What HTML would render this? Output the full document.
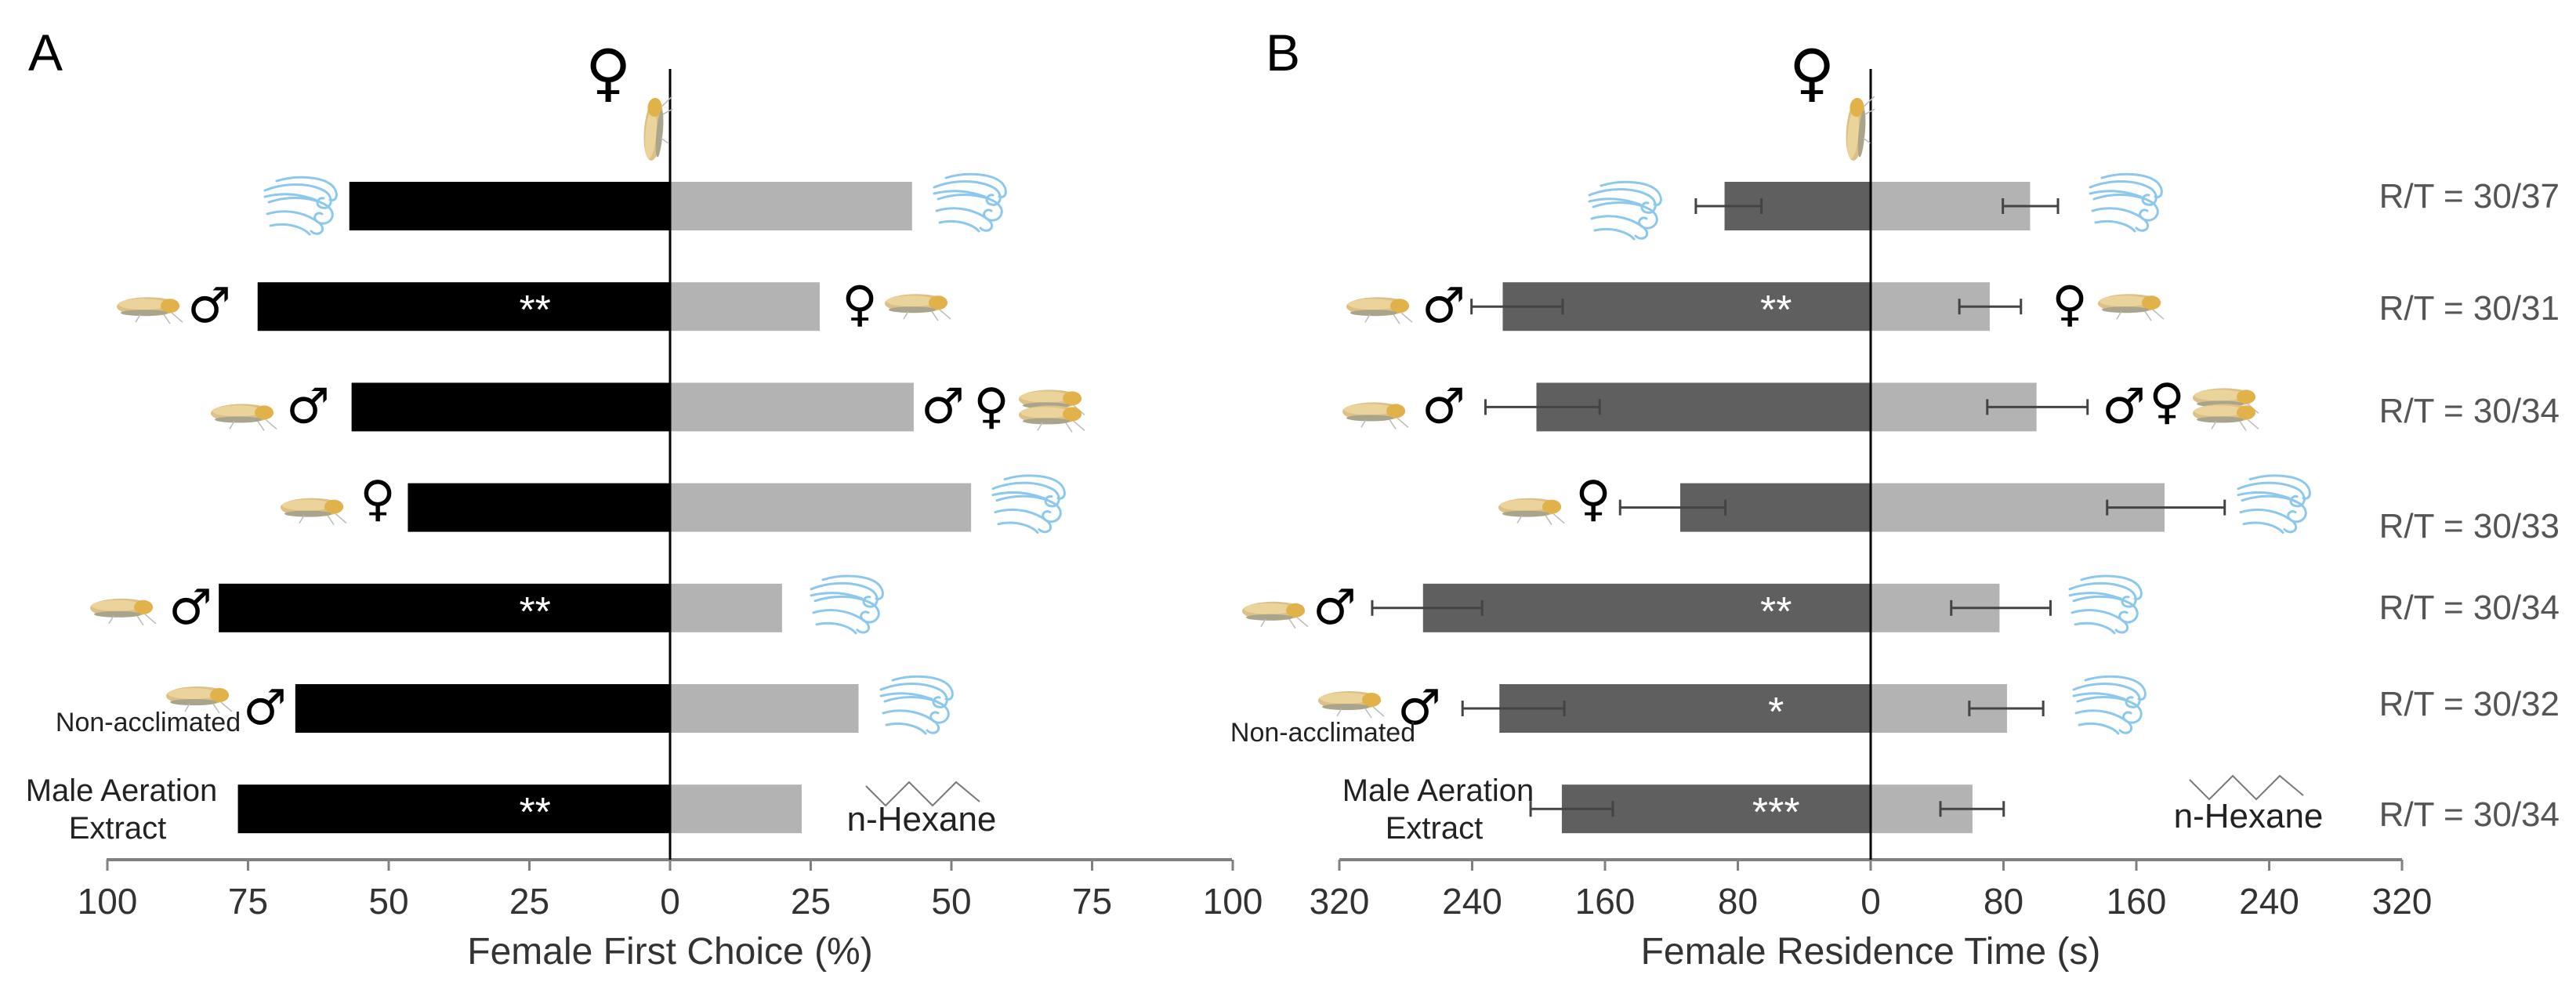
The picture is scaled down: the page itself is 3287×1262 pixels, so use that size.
<!DOCTYPE html>
<html><head><meta charset="utf-8"><style>
html,body{margin:0;padding:0;background:#fff;}
svg{display:block;font-family:"Liberation Sans",Arial,sans-serif;}
</style></head><body>
<svg id="fig" width="3287" height="1262" viewBox="0 0 3287 1262" xmlns="http://www.w3.org/2000/svg">
<defs>
<g id="insect">
<ellipse cx="0" cy="0" rx="40" ry="12" fill="#dcc085"/>
<ellipse cx="-6" cy="-3" rx="32" ry="7" fill="#ead49c"/>
<ellipse cx="28" cy="-1" rx="12" ry="9" fill="#e2b24a"/>
<ellipse cx="-5" cy="8" rx="30" ry="4" fill="#a9a48c"/>
<path d="M30 8 L44 20 M20 10 L28 22 M-10 10 L-16 20" stroke="#bbb" stroke-width="1.5" fill="none"/>
</g>
<g id="wind" fill="none" stroke="#8cc8ee" stroke-width="3" stroke-linecap="round">
<path d="M-45 -20 C-20 -30 10 -30 30 -20 C45 -12 40 5 28 2 C18 0 22 -12 30 -10"/>
<path d="M-40 -5 C-10 -15 20 -10 35 0 C50 12 35 28 22 20 C14 14 22 6 28 10"/>
<path d="M-42 10 C-15 2 10 10 25 22 C35 32 22 40 14 32"/>
<path d="M-38 25 C-15 20 5 28 12 36"/>
<path d="M-30 -32 C-5 -40 30 -38 42 -25 C50 -15 46 -5 38 -8"/>
<path d="M-45 -12 C-20 -18 0 -15 20 -8"/>
</g>
<g id="hexane" fill="none" stroke="#777" stroke-width="2">
<path d="M-75 -5 L-50 20 L-20 -10 L10 20 L40 -10 L70 15"/>
</g>
</defs>
</svg>
<script>
// ---- data ----
const categories = ["Air vs Air","Male vs Female","Male vs Male+Female","Female vs Air","Male vs Air","Non-acclimated male vs Air","Male aeration extract vs n-Hexane"];
const firstChoiceLeft = [57, 73.3, 56.6, 46.6, 80.2, 66.6, 76.8];
const firstChoiceRight = [43, 26.6, 43.3, 53.5, 19.9, 33.5, 23.4];
const starsA = ["", "**", "", "", "**", "", "**"];
const residenceLeft = [88, 221.6, 201.3, 114.7, 269.6, 223.6, 186];
const residenceLeftLo = [65.8, 185.5, 163.2, 87.5, 234, 184.5, 155.3];
const residenceLeftHi = [105.3, 240.4, 232, 150.9, 300.2, 245.8, 204.8];
const residenceRight = [96, 71.7, 99.9, 177, 77.6, 82.1, 61.3];
const residenceRightLo = [79.6, 53.4, 70.2, 142.4, 48.5, 59.4, 42];
const residenceRightHi = [112.8, 90.5, 130.6, 213.2, 108.3, 103.9, 80.1];
const starsB = ["", "**", "", "", "**", "*", "***"];
const rtLabels = ["R/T = 30/37","R/T = 30/31","R/T = 30/34","R/T = 30/33","R/T = 30/34","R/T = 30/32","R/T = 30/34"];
const ticksA = [100, 75, 50, 25, 0, 25, 50, 75, 100];
const ticksASigned = [-100, -75, -50, -25, 0, 25, 50, 75, 100];
const ticksB = [320, 240, 160, 80, 0, 80, 160, 240, 320];
const ticksBSigned = [-320, -240, -160, -80, 0, 80, 160, 240, 320];

// ---- layout ----
const NS = "http://www.w3.org/2000/svg";
const svg = document.getElementById("fig");
const axisY = 1097, barH = 62;
const rowY = i => 263 + i * 128.2;
const x0A = 855, pxA = 7.18;
const xA = v => x0A + v * pxA;
const x0B = 2387, pxB = 678 / 320;
const xB = v => x0B + v * pxB;

function mk(tag, attrs, parent) {
  const e = document.createElementNS(NS, tag);
  for (const k in attrs) e.setAttribute(k, attrs[k]);
  (parent || svg).appendChild(e);
  return e;
}
function txt(s, x, y, size, fill, anchor, parent) {
  const t = mk("text", {x: x, y: y, "font-size": size, fill: fill, "text-anchor": anchor || "middle"}, parent);
  t.textContent = s;
  return t;
}

function panel(id, xf, x0, left, right, stars, leftFill, ticks, ticksSigned, title, axisL, axisR) {
  const g = mk("g", {});
  
  
  for (let i = 0; i < left.length; i++) {
    const y = rowY(i) - barH / 2;
    const bl = mk("rect", {x: xf(-left[i]), y: y, width: x0 - xf(-left[i]), height: barH, fill: leftFill}, g);
    
    
    const br = mk("rect", {x: x0, y: y, width: xf(right[i]) - x0, height: barH, fill: "#b3b3b3"}, g);
    
    
    if (stars[i]) {
      const st = txt(stars[i], id === "a" ? xf(-24) : xf(-57), rowY(i) + 22, 52, "#fff", "middle", g);
      
      
    }
  }
  // axis
  const ax = mk("line", {x1: axisL, x2: axisR, y1: axisY, y2: axisY, stroke: "#808080", "stroke-width": 4}, g);
  
  
  for (let k = 0; k < ticks.length; k++) {
    const tx = xf(ticksSigned[k]);
    mk("line", {x1: tx, x2: tx, y1: axisY, y2: axisY + 14, stroke: "#808080", "stroke-width": 3}, g);
    const tl = txt(String(ticks[k]), tx, 1166, 46, "#333", "middle", g);
    
    
  }
  const tt = txt(title, x0, 1230, 48, "#333", "middle", g);
  
  
  const cl = mk("line", {x1: x0, x2: x0, y1: 88, y2: axisY, stroke: "#000", "stroke-width": 3}, g);
  
  
  return g;
}

panel("a", xA, x0A, firstChoiceLeft, firstChoiceRight, starsA, "#000", ticksA, ticksASigned, "Female First Choice (%)", 136, 1572);
const gB = panel("b", xB, x0B, residenceLeft, residenceRight, starsB, "#5f5f5f", ticksB, ticksBSigned, "Female Residence Time (s)", 1709, 3065);

// error bars panel B
for (let i = 0; i < residenceLeft.length; i++) {
  const y = rowY(i);
  const pairs = [[residenceLeftLo[i], residenceLeftHi[i], -1], [residenceRightLo[i], residenceRightHi[i], 1]];
  for (const p of pairs) {
    const a = xB(p[2] * p[0]), b = xB(p[2] * p[1]);
    const eg = mk("g", {stroke: "#444", "stroke-width": 3}, gB);
    
    
    mk("line", {x1: a, x2: b, y1: y, y2: y}, eg);
    mk("line", {x1: a, x2: a, y1: y - 10, y2: y + 10}, eg);
    mk("line", {x1: b, x2: b, y1: y - 10, y2: y + 10}, eg);
  }
  const rt = txt(rtLabels[i], 3266, [249, 392, 523, 670, 774, 897, 1038][i] + 16, 44, "#555", "end");
  
  
}

// panel letters
const la = txt("A", 58, 90, 66, "#000");


const lb = txt("B", 1637, 90, 66, "#000");



// icons
function icon(ref, x, y, name, extra) {
  const u = mk("use", Object.assign({href: "#" + ref, transform: "translate(" + x + "," + y + ")" + (extra || "")}, {}));
  
  
}
function sym(s, x, y, name, size) {
  const t = txt(s, x, y, size || 62, "#000", "middle");
  t.style.fontFamily = '"DejaVu Sans", sans-serif';
  
  
}
function label(s, x, y, size, name) {
  const t = txt(s, x, y, size, "#222", "middle");
  
  
}
const R = i => rowY(i);
// Panel A
sym("♀", 776, 120, "female-symbol-top", 80);
icon("insect", 834, 165, "insect-vertical", " rotate(-85)");
icon("wind", 383, R(0), "wind-icon");
icon("wind", 1237, R(0) - 4, "wind-icon");
icon("insect", 189, R(1), "insect-icon"); sym("♂", 267, R(1) + 20, "male-symbol");
sym("♀", 1097, R(1) + 18, "female-symbol"); icon("insect", 1169, R(1) - 4, "insect-icon");
icon("insect", 309, R(2) + 8, "insect-icon"); sym("♂", 393, R(2) + 20, "male-symbol");
sym("♂", 1203, R(2) + 20, "male-symbol"); sym("♀", 1265, R(2) + 20, "female-symbol");
icon("insect", 1340, R(2) - 10, "insect-icon"); icon("insect", 1340, R(2) + 10, "insect-icon");
icon("insect", 398, R(3), "insect-icon"); sym("♀", 482, R(3) + 10, "female-symbol");
icon("wind", 1312, R(3) - 4, "wind-icon");
icon("insect", 155, R(4), "insect-icon"); sym("♂", 243, R(4) + 20, "male-symbol");
icon("wind", 1080, R(4) - 4, "wind-icon");
icon("insect", 252, R(5) - 16, "insect-icon"); sym("♂", 338, R(5) + 20, "male-symbol");
label("Non-acclimated", 189, 933, 34, "non-acclimated-label");
icon("wind", 1169, R(5) - 4, "wind-icon");
label("Male Aeration", 155, 1022, 40, "male-aeration-label");
label("Extract", 150, 1070, 40, "extract-label");
icon("hexane", 1180, 1008, "hexane-structure");
label("n-Hexane", 1176, 1060, 44, "n-hexane-label");
// Panel B
sym("♀", 2312, 120, "female-symbol-top", 80);
icon("insect", 2368, 165, "insect-vertical", " rotate(-85)");
icon("wind", 2073, R(0) + 6, "wind-icon");
icon("wind", 2712, R(0) - 4, "wind-icon");
icon("insect", 1758, R(1), "insect-icon"); sym("♂", 1842, R(1) + 20, "male-symbol");
sym("♀", 2641, R(1) + 18, "female-symbol"); icon("insect", 2717, R(1) - 4, "insect-icon");
icon("insect", 1753, R(2) + 6, "insect-icon"); sym("♂", 1842, R(2) + 20, "male-symbol");
sym("♂", 2710, R(2) + 20, "male-symbol"); sym("♀", 2765, R(2) + 14, "female-symbol");
icon("insect", 2838, R(2) - 12, "insect-icon"); icon("insect", 2838, R(2) + 8, "insect-icon");
icon("insect", 1952, R(3), "insect-icon"); sym("♀", 2033, R(3) + 10, "female-symbol");
icon("wind", 2901, R(3) - 4, "wind-icon");
icon("insect", 1625, R(4) + 4, "insect-icon"); sym("♂", 1703, R(4) + 20, "male-symbol");
icon("wind", 2686, R(4) - 4, "wind-icon");
icon("insect", 1722, R(5) - 10, "insect-icon"); sym("♂", 1811, R(5) + 20, "male-symbol");
label("Non-acclimated", 1688, 946, 34, "non-acclimated-label");
icon("wind", 2691, R(5) - 4, "wind-icon");
label("Male Aeration", 1835, 1022, 40, "male-aeration-label");
label("Extract", 1830, 1070, 40, "extract-label");
icon("hexane", 2869, 1000, "hexane-structure");
label("n-Hexane", 2869, 1056, 44, "n-hexane-label");
</script>
</body></html>
